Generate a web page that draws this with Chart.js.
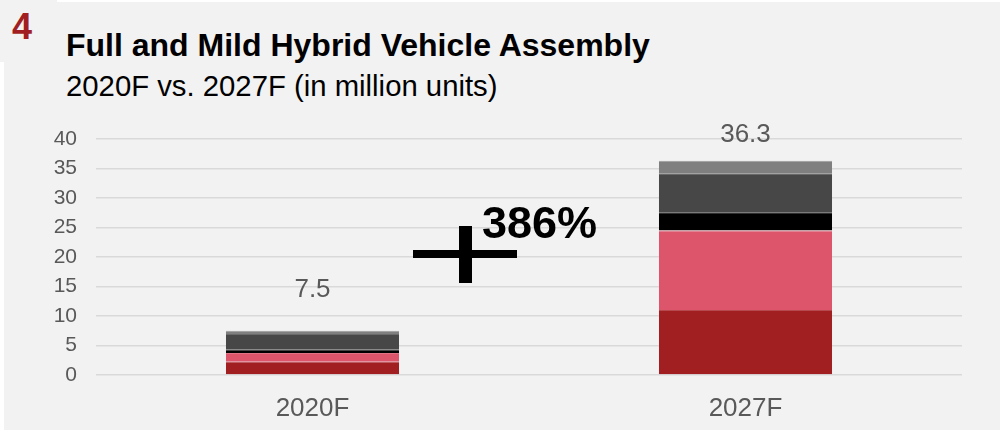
<!DOCTYPE html>
<html>
<head>
<meta charset="utf-8">
<script src="https://cdn.jsdelivr.net/npm/chart.js@4"></script>
<style>
  html, body { margin: 0; padding: 0; background: #ffffff; }
  #wrap { position: relative; width: 1000px; height: 430px; overflow: hidden; font-family: "Liberation Sans", Arial, sans-serif; }
  #panel { position: absolute; left: 4px; top: 2px; right: 0; bottom: 0; background: #f2f2f2; }
  #badge { position: absolute; left: 0; top: 0; width: 57px; height: 62px; background: #f2f2f2; }
  #num { position: absolute; left: 12px; top: 6px; font-size: 36px; font-weight: bold; color: #a11f22; }
  #title { position: absolute; left: 66px; top: 27px; font-size: 32px; font-weight: bold; color: #000; white-space: nowrap; }
  #subtitle { position: absolute; left: 66px; top: 69px; font-size: 29.3px; color: #000; white-space: nowrap; }
  canvas { position: absolute; left: 0; top: 0; }
</style>
</head>
<body>
<div id="wrap">
  <div id="panel"></div>
  <div id="badge"></div>
  <div id="num">4</div>
  <div id="title">Full and Mild Hybrid Vehicle Assembly</div>
  <div id="subtitle">2020F vs. 2027F (in million units)</div>
  <canvas id="chart" width="1000" height="430"></canvas>
</div>
<script>
// Données
const categories = ['2020F', '2027F'];
const seriesDarkRed = [2.25, 11.0];
const seriesPink = [1.5, 13.5];
const seriesBlack = [0.55, 3.1];
const seriesDarkGray = [2.65, 6.6];
const seriesGray = [0.55, 2.1];
const totals = ['7.5', '36.3'];
const growthLabel = '386%';

Chart.defaults.font.family = '"Liberation Sans", Arial, sans-serif';

// --- Étiquettes des totaux + annotation de croissance ---
const extrasPlugin = {
    id: 'extras',
    afterDatasetsDraw(chart) {
        const ctx = chart.ctx;
        const x = chart.scales.x;
        const y = chart.scales.y;
        const offsets = [34, 19];

        ctx.save();
        ctx.fillStyle = '#595959';
        ctx.font = '26px "Liberation Sans", Arial, sans-serif';
        ctx.textAlign = 'center';
        ctx.textBaseline = 'alphabetic';
        categories.forEach((c, i) => {
            const sum = seriesDarkRed[i] + seriesPink[i] + seriesBlack[i] + seriesDarkGray[i] + seriesGray[i];
            ctx.fillText(totals[i], x.getPixelForValue(i), y.getPixelForValue(sum) - offsets[i]);
        });

        // grand "+" et pourcentage
        ctx.fillStyle = '#000';
        ctx.fillRect(413, 250, 104, 8);
        ctx.fillRect(459, 226, 13, 57);
        ctx.font = 'bold 45px "Liberation Sans", Arial, sans-serif';
        ctx.textAlign = 'left';
        ctx.fillText(growthLabel, 482, 238);
        ctx.restore();
    }
};

function makeSet(label, data, color, edge) {
    return {
        label: label,
        data: data,
        backgroundColor: color,
        borderColor: edge,
        borderWidth: { top: 1, bottom: 0, left: 0, right: 0 },
        borderSkipped: false,
        barPercentage: 0.4,
        categoryPercentage: 1
    };
}

new Chart(document.getElementById('chart').getContext('2d'), {
    type: 'bar',
    data: {
        labels: categories,
        datasets: [
            makeSet('a', seriesDarkRed, '#a11f21', '#b5494b'),
            makeSet('b', seriesPink, '#dc556b', '#e27384'),
            makeSet('c', seriesBlack, '#000000', '#2a2a2a'),
            makeSet('d', seriesDarkGray, '#474747', '#6a6a6a'),
            makeSet('e', seriesGray, '#7f7f7f', '#9a9a9a')
        ]
    },
    options: {
        responsive: false,
        animation: false,
        layout: { padding: { top: 139, right: 38, left: 0, bottom: 0 } },
        plugins: { legend: { display: false }, tooltip: { enabled: false } },
        scales: {
            x: {
                stacked: true,
                grid: { display: false },
                border: { display: false },
                ticks: { color: '#595959', font: { size: 26 }, padding: 10 },
                afterFit(scale) { scale.height = 55; }
            },
            y: {
                stacked: true,
                min: 0,
                max: 40,
                ticks: { stepSize: 5, color: '#595959', font: { size: 21 }, padding: 19 },
                grid: { color: '#d9d9d9', lineWidth: 1.5, drawTicks: false },
                border: { display: false },
                afterFit(scale) { scale.width = 96; }
            }
        }
    },
    plugins: [extrasPlugin]
});
</script>
</body>
</html>
